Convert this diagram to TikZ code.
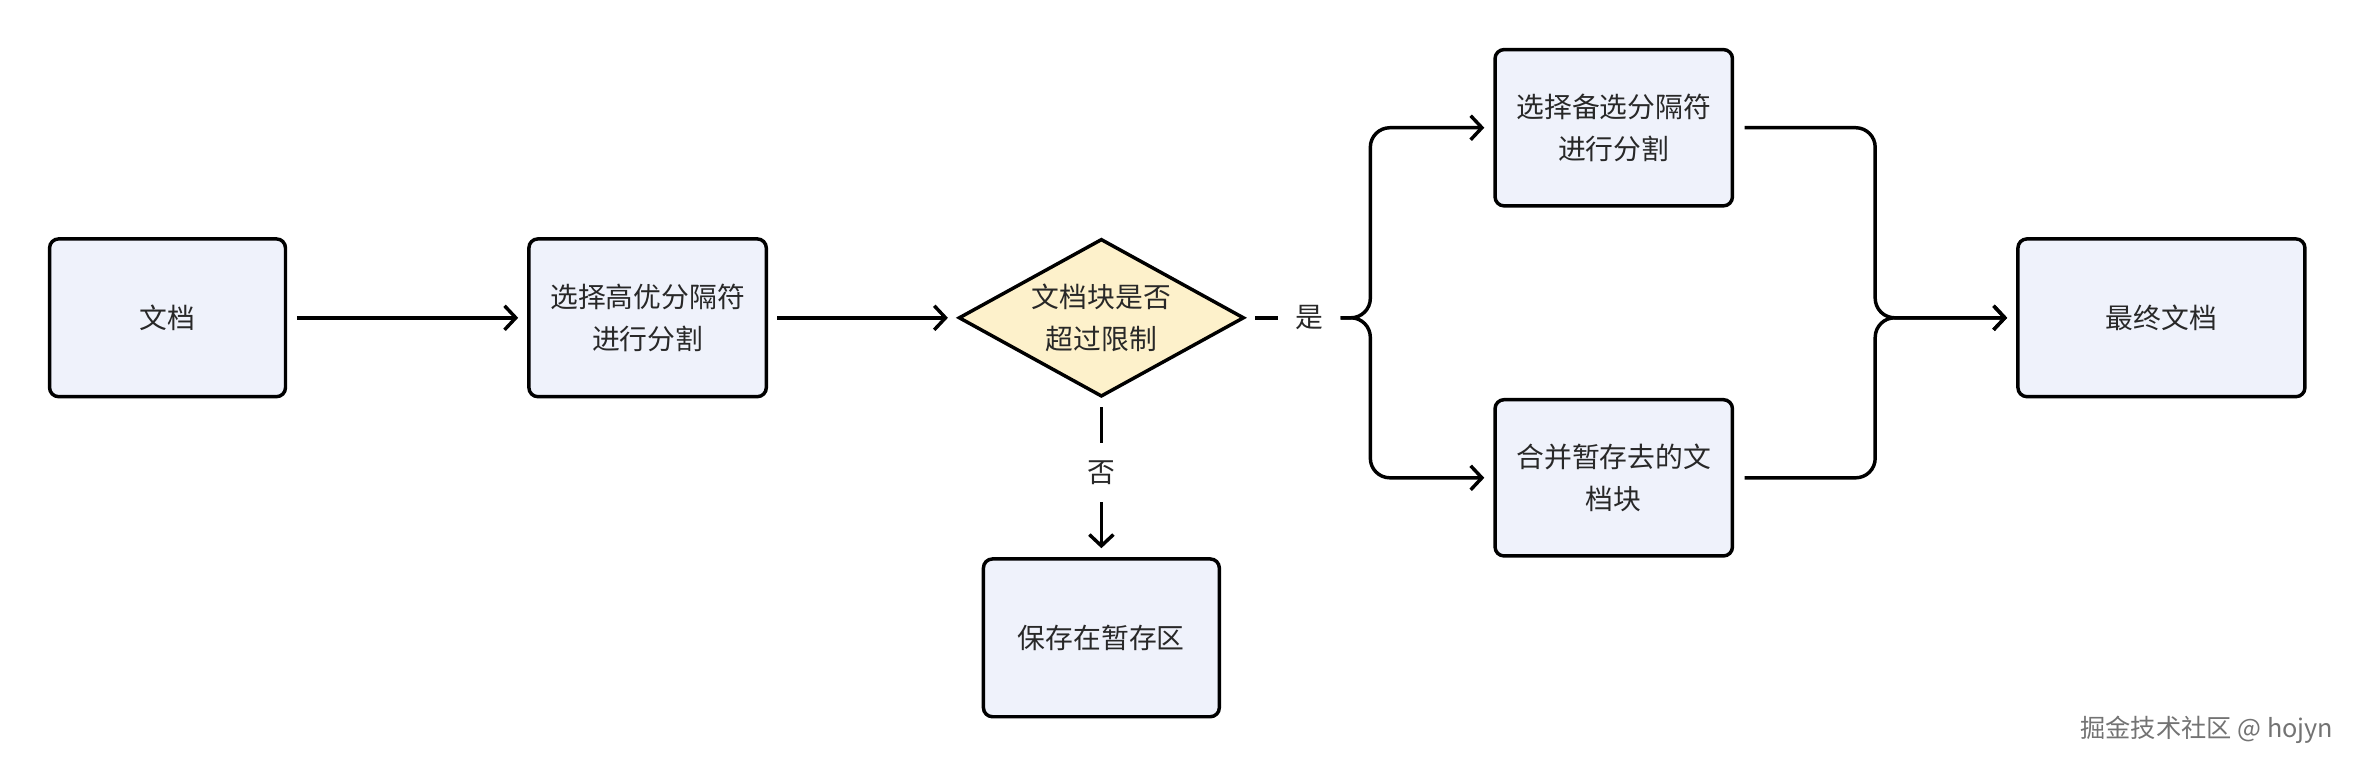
\documentclass[tikz,border=0pt]{standalone}
\usepackage{fontspec}
\setmainfont{Noto Sans CJK SC}
\usetikzlibrary{arrows.meta,shapes.geometric}
\definecolor{boxfill}{RGB}{239,242,251}
\definecolor{diafill}{RGB}{253,241,203}
\definecolor{txt}{RGB}{40,40,40}
\definecolor{wm}{RGB}{115,115,115}
\tikzset{
  base/.style={draw=black, line width=2.3pt, text=txt, inner sep=0pt, align=center,
    font=\fontsize{18.5}{27.7}\selectfont},
  box/.style={base, rectangle, rounded corners=6pt, fill=boxfill, minimum height=105pt},
  dia/.style={base, diamond, fill=diafill, aspect=1.8, minimum width=190pt, minimum height=105pt},
  lbl/.style={text=txt, inner sep=0pt, minimum width=41pt, minimum height=39pt,
    font=\fontsize{18.5}{22}\selectfont},
  conn/.style={draw=black, line width=2.3pt},
  arr/.style={conn, -{Straight Barb[length=7.5pt,width=16pt]}, shorten >=6pt},
}
\begin{document}
\begin{tikzpicture}[x=1pt,y=-1pt]
\useasboundingbox (0,0) rectangle (1568,512);
\node[box, minimum width=157pt] (b1) at (111.5,211.5) {文档};
\node[box, minimum width=158pt] (b2) at (431,211.5) {选择高优分隔符\\进行分割};
\node[dia] (d) at (733,211.5) {文档块是否\\超过限制};
\node[box, minimum width=158pt, minimum height=104pt] (b3) at (1074,85) {选择备选分隔符\\进行分割};
\node[box, minimum width=158pt, minimum height=104pt] (b4) at (1074,318) {合并暂存去的文\\档块};
\node[box, minimum width=191pt] (b5) at (1438.5,211.5) {最终文档};
\node[box, minimum width=157pt] (b6) at (733,424.5) {保存在暂存区};
\node[lbl] (yes) at (871.5,211.5) {是};
\node[lbl] (no) at (733,314.5) {否};
\coordinate (jL) at (912,211.5);
\coordinate (jR) at (1248,211.5);
\node[text=wm, inner sep=0pt, anchor=east, font=\fontsize{16.8}{18}\selectfont] (wmark) at (1553,486) {掘金技术社区 @ hojyn};

\draw[arr, shorten <=6.5pt] (b1.east) -- (b2.west);
\draw[arr, shorten <=6pt] (b2.east) -- (d.west);
\draw[conn, shorten <=6pt] (d.east) -- (yes.west);
\draw[arr, rounded corners=13pt] (yes.east) -- (jL) |- (b3.west);
\draw[arr, rounded corners=13pt] (yes.east) -- (jL) |- (b4.west);
\draw[arr, rounded corners=13pt, shorten <=7pt] (b3.east) -| (jR) -- (b5.west);
\draw[arr, rounded corners=13pt, shorten <=7pt] (b4.east) -| (jR) -- (b5.west);
\draw[conn, shorten <=6pt] (d.south) -- (no.north);
\draw[arr] (no.south) -- (b6.north);
\end{tikzpicture}
\end{document}
